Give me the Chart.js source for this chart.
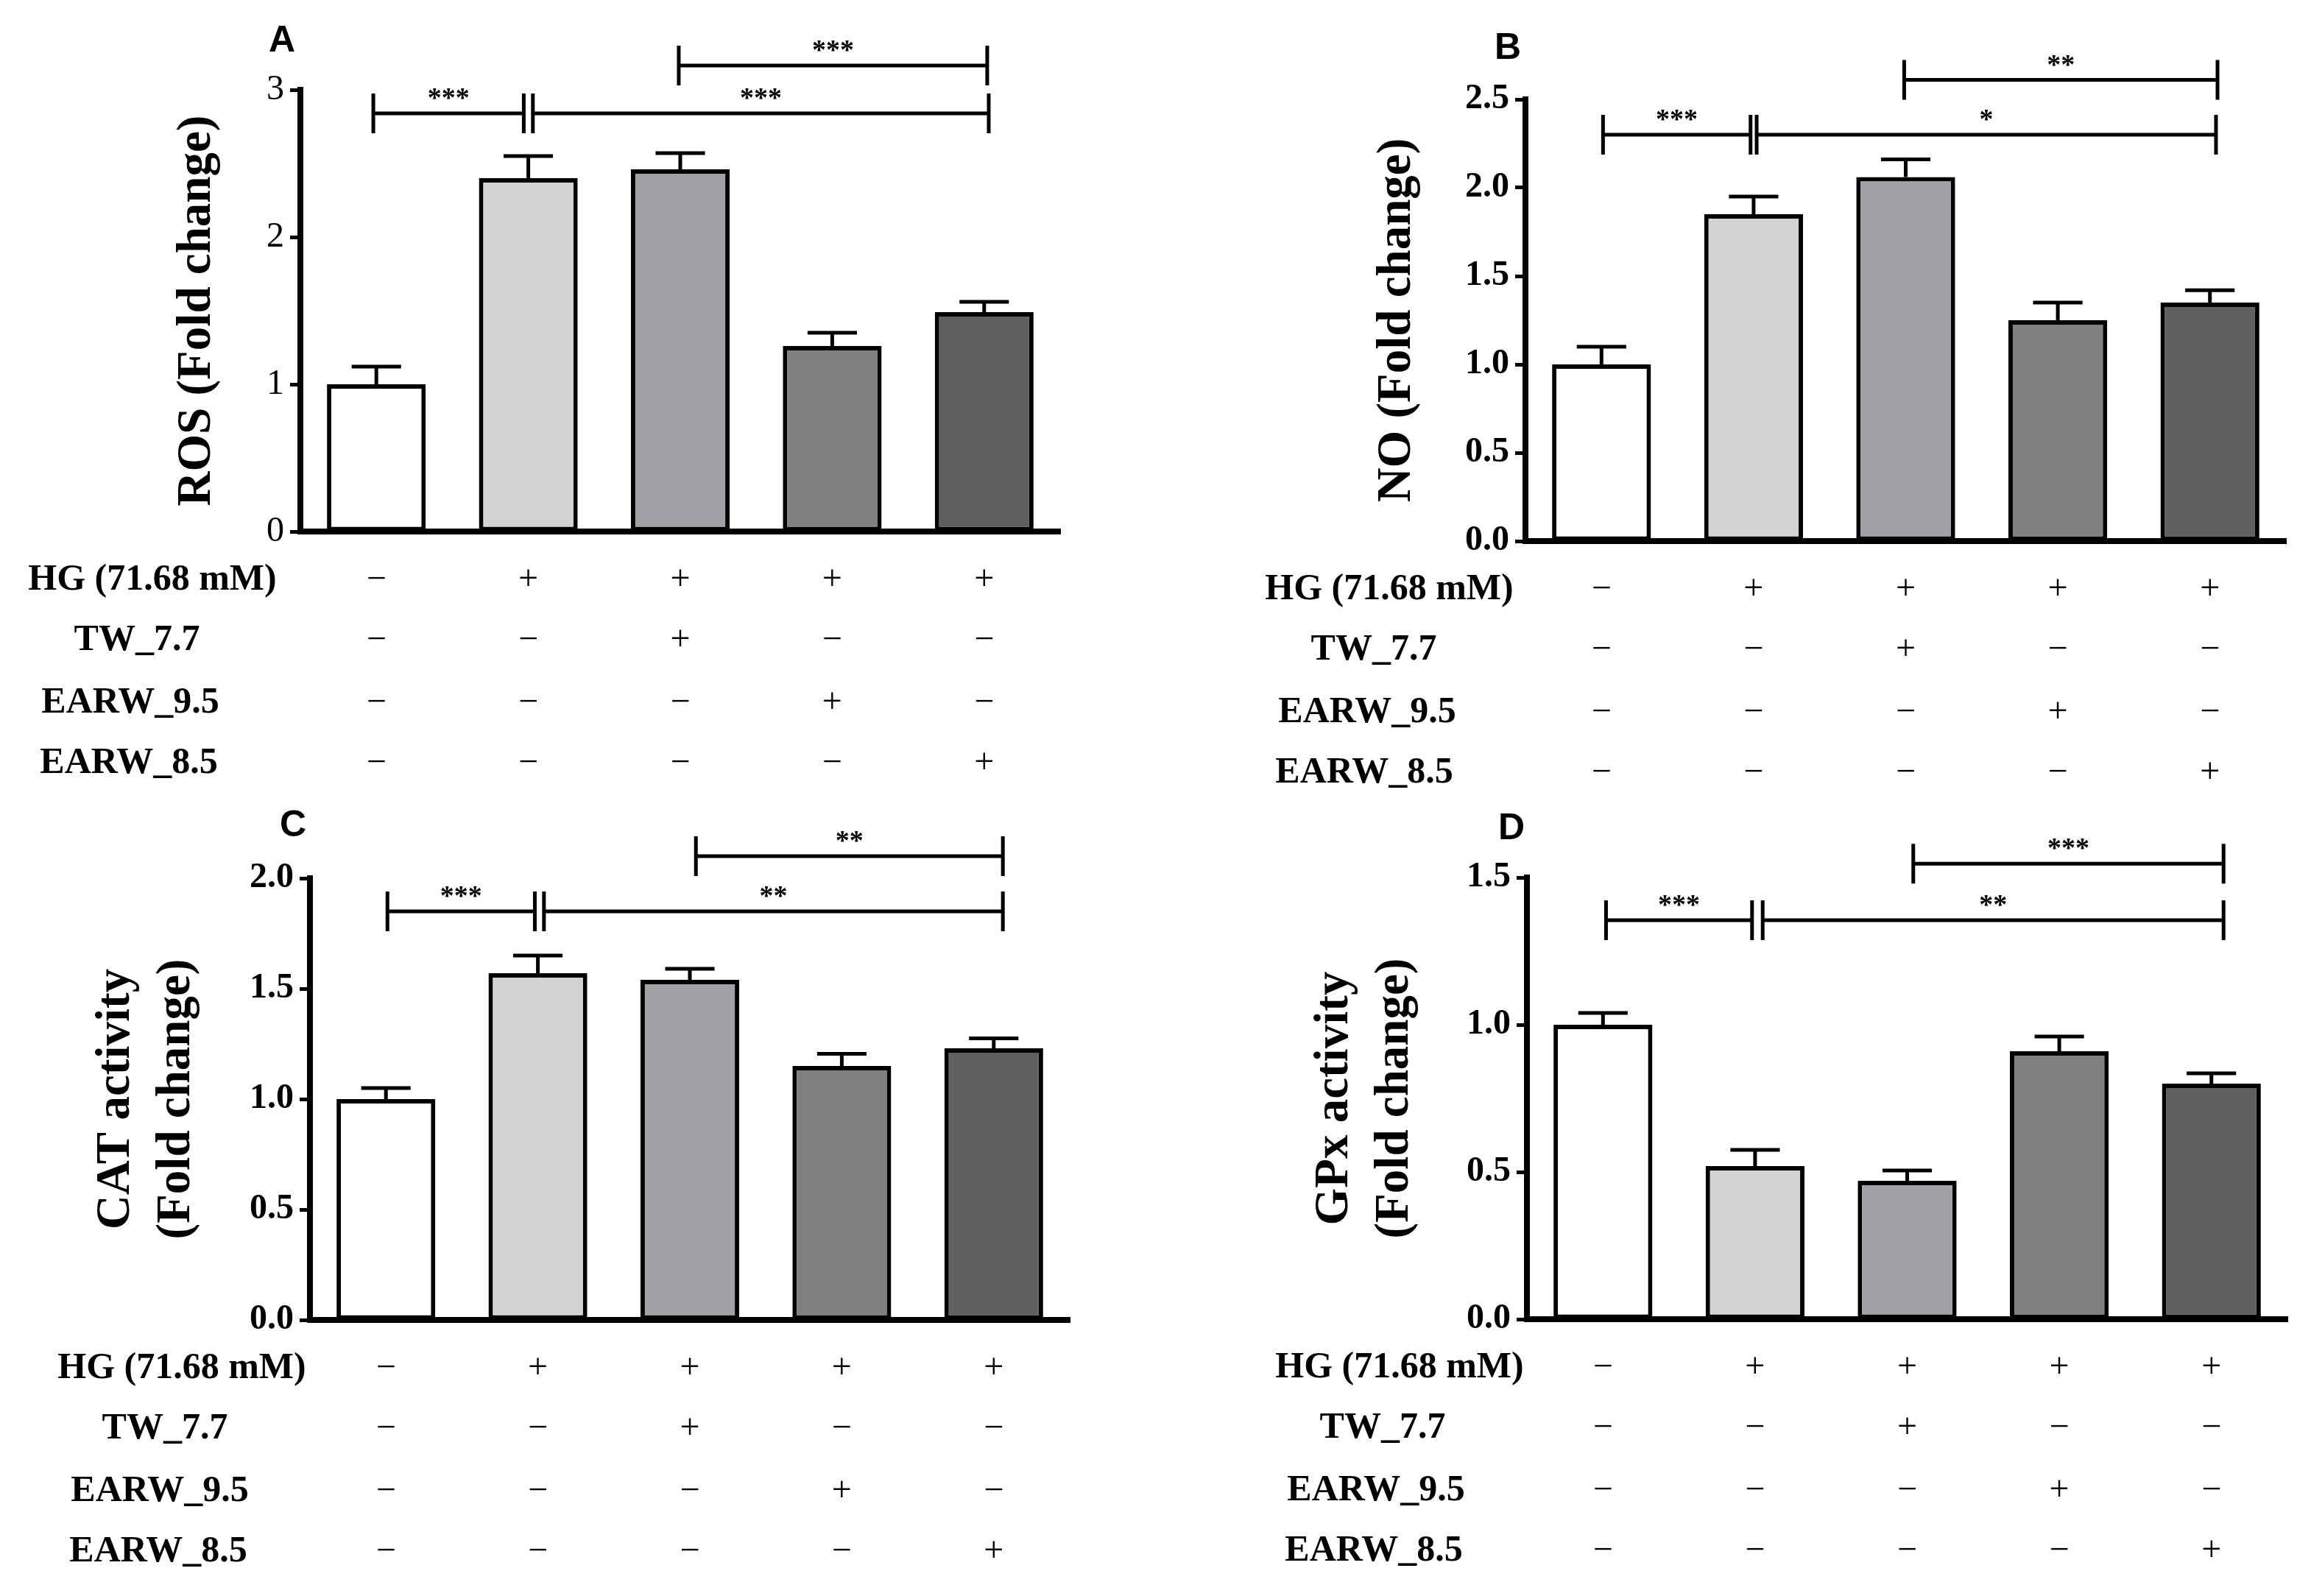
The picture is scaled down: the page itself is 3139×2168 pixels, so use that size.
<!DOCTYPE html>
<html>
<head>
<meta charset="utf-8">
<script src="https://cdn.jsdelivr.net/npm/chart.js@4.4.1/dist/chart.umd.min.js"></script>
<style>
  html, body { margin: 0; padding: 0; background: #ffffff; }
  body { width: 3139px; height: 2168px; position: relative; overflow: hidden; }
  canvas { position: absolute; }
</style>
</head>
<body>
<canvas id="cA" width="1570" height="1084" style="left:0px;top:0px;width:1570px;height:1084px"></canvas>
<canvas id="cB" width="1569" height="1084" style="left:1570px;top:0px;width:1569px;height:1084px"></canvas>
<canvas id="cC" width="1570" height="1084" style="left:0px;top:1084px;width:1570px;height:1084px"></canvas>
<canvas id="cD" width="1569" height="1084" style="left:1570px;top:1084px;width:1569px;height:1084px"></canvas>
<script>
// ---------------- DATA ----------------
const categories = ['Control', 'HG', 'HG+TW_7.7', 'HG+EARW_9.5', 'HG+EARW_8.5'];
const rowNames = ['HG (71.68 mM)', 'TW_7.7', 'EARW_9.5', 'EARW_8.5'];
const signsHG   = ['\u2212', '+', '+', '+', '+'];
const signsTW   = ['\u2212', '\u2212', '+', '\u2212', '\u2212'];
const signsE95  = ['\u2212', '\u2212', '\u2212', '+', '\u2212'];
const signsE85  = ['\u2212', '\u2212', '\u2212', '\u2212', '+'];
const signRows = [signsHG, signsTW, signsE95, signsE85];

const rosMean = [1.00, 2.40, 2.46, 1.26, 1.49];
const rosErr  = [0.12, 0.15, 0.11, 0.09, 0.07];
const noMean  = [1.00, 1.85, 2.06, 1.25, 1.35];
const noErr   = [0.10, 0.10, 0.10, 0.10, 0.07];
const catMean = [1.00, 1.57, 1.54, 1.15, 1.23];
const catErr  = [0.05, 0.08, 0.05, 0.055, 0.045];
const gpxMean = [1.00, 0.52, 0.47, 0.91, 0.80];
const gpxErr  = [0.04, 0.055, 0.035, 0.05, 0.035];

const rosTicks = [0, 1, 2, 3];
const noTicks  = [0, 0.5, 1.0, 1.5, 2.0, 2.5];
const catTicks = [0, 0.5, 1.0, 1.5, 2.0];
const gpxTicks = [0, 0.5, 1.0, 1.5];

// significance brackets: [from category, to category, value level, label]
const rosBrackets = [[-0.02, 0.97, 2.84, '***'], [1.03, 4.03, 2.84, '***'], [1.99, 4.02, 3.165, '***']];
const noBrackets  = [[0.01, 0.98, 2.30, '***'], [1.02, 4.04, 2.30, '*'], [1.99, 4.05, 2.61, '**']];
const catBrackets = [[0.01, 0.98, 1.85, '***'], [1.04, 4.06, 1.85, '**'], [2.04, 4.06, 2.10, '**']];
const gpxBrackets = [[0.02, 0.98, 1.355, '***'], [1.05, 4.08, 1.355, '**'], [2.04, 4.08, 1.547, '***']];

const barColors = ['#ffffff', '#d3d3d3', '#a2a2a6', '#808080', '#606060'];

// ---------------- LAYOUT ----------------
const panels = [
  { id: 'cA', W: 1570, H: 1084, x0: 408, x1: 1440, yTop: 122, yZero: 722, titleLeft: 227,
    title: 'ROS (Fold change)', mean: rosMean, err: rosErr, ticks: rosTicks, dec: 0, tickWeight: 'normal',
    brackets: rosBrackets, letter: 'A', letterX: 365, letterY: 70, nameX: [-201, -222, -231, -233] },
  { id: 'cB', W: 1569, H: 1084, x0: 502, x1: 1535, yTop: 135, yZero: 735, titleLeft: 287,
    title: 'NO (Fold change)', mean: noMean, err: noErr, ticks: noTicks, dec: 1, tickWeight: 'bold',
    brackets: noBrackets, letter: 'B', letterX: 460, letterY: 80, nameX: [-185, -206, -215, -219] },
  { id: 'cC', W: 1570, H: 1084, x0: 421, x1: 1453, yTop: 109, yZero: 709, titleLeft: 117,
    title: ['CAT activity', '(Fold change)'], mean: catMean, err: catErr, ticks: catTicks, dec: 1, tickWeight: 'bold',
    brackets: catBrackets, letter: 'C', letterX: 380, letterY: 52, nameX: [-174, -197, -204, -206] },
  { id: 'cD', W: 1569, H: 1084, x0: 504, x1: 1537, yTop: 108, yZero: 708, titleLeft: 202,
    title: ['GPx activity', '(Fold change)'], mean: gpxMean, err: gpxErr, ticks: gpxTicks, dec: 1, tickWeight: 'bold',
    brackets: gpxBrackets, letter: 'D', letterX: 465, letterY: 56, nameX: [-173, -196, -205, -208] }
];
const rowOffsets = [79, 161, 246, 328];
const SERIF = "'Liberation Serif', 'Times New Roman', serif";
const SANS = "'Liberation Sans', Arial, sans-serif";

const decorPlugin = {
  id: 'decor',
  afterDatasetsDraw(chart) {
    const p = chart.options.plugins.decor;
    const ctx = chart.ctx;
    const xs = chart.scales.x, ys = chart.scales.y;
    const meta = chart.getDatasetMeta(0);
    ctx.save();
    ctx.strokeStyle = '#000';
    ctx.lineCap = 'butt';
    // error bars (upper)
    ctx.lineWidth = 5;
    meta.data.forEach((bar, i) => {
      const yb = ys.getPixelForValue(p.mean[i]);
      const ye = ys.getPixelForValue(p.mean[i] + p.err[i]);
      const half = bar.width * 0.25;
      ctx.beginPath();
      ctx.moveTo(bar.x, yb);
      ctx.lineTo(bar.x, ye);
      ctx.moveTo(bar.x - half, ye);
      ctx.lineTo(bar.x + half, ye);
      ctx.stroke();
    });
    // significance brackets
    ctx.fillStyle = '#000';
    ctx.font = 'bold 38px ' + SERIF;
    ctx.textAlign = 'center';
    ctx.textBaseline = 'alphabetic';
    p.brackets.forEach(b => {
      const xa = xs.getPixelForValue(b[0]);
      const xb = xs.getPixelForValue(b[1]);
      const yl = ys.getPixelForValue(b[2]);
      ctx.lineWidth = 5;
      ctx.beginPath();
      ctx.moveTo(xa, yl); ctx.lineTo(xb, yl);
      ctx.moveTo(xa, yl - 27); ctx.lineTo(xa, yl + 27);
      ctx.moveTo(xb, yl - 27); ctx.lineTo(xb, yl + 27);
      ctx.stroke();
      ctx.fillText(b[3], (xa + xb) / 2, yl - 9);
    });
    // treatment rows
    const yZero = ys.getPixelForValue(0);
    rowNames.forEach((name, r) => {
      const yb = yZero + rowOffsets[r];
      ctx.font = 'bold 50px ' + SERIF;
      ctx.textAlign = 'center';
      ctx.fillText(name, chart.chartArea.left + p.nameX[r], yb);
      ctx.font = '48px ' + SERIF;
      signRows[r].forEach((s, i) => {
        ctx.fillText(s, xs.getPixelForValue(i), yb);
      });
    });
    // panel letter
    ctx.font = 'bold 50px ' + SANS;
    ctx.textAlign = 'left';
    ctx.fillText(p.letter, p.letterX, p.letterY);
    ctx.restore();
  }
};

panels.forEach(p => {
  const yMax = p.ticks[p.ticks.length - 1];
  const step = p.ticks[1] - p.ticks[0];
  const yWidth = p.x0 - p.titleLeft;
  new Chart(document.getElementById(p.id), {
    type: 'bar',
    data: {
      labels: categories,
      datasets: [{
        data: p.mean,
        backgroundColor: barColors,
        borderColor: '#000000',
        borderWidth: 6,
        borderSkipped: false,
        barPercentage: 0.65,
        categoryPercentage: 1.0
      }]
    },
    options: {
      responsive: false,
      animation: false,
      devicePixelRatio: 1,
      layout: { padding: { left: p.titleLeft, right: p.W - p.x1, top: p.yTop, bottom: p.H - p.yZero - 2 } },
      plugins: {
        legend: { display: false },
        tooltip: { enabled: false },
        decor: { mean: p.mean, err: p.err, brackets: p.brackets, letter: p.letter,
                 letterX: p.letterX, letterY: p.letterY, nameX: p.nameX }
      },
      scales: {
        x: {
          type: 'category',
          offset: true,
          grid: { display: false },
          border: { display: true, width: 8, color: '#000' },
          ticks: { display: false },
          afterFit(s) { s.height = 2; }
        },
        y: {
          min: 0, max: yMax,
          afterBuildTicks(s) { s.ticks = p.ticks.map(v => ({ value: v })); },
          ticks: {
            stepSize: step,
            color: '#000',
            padding: 8,
            font: { family: SERIF, size: 48, weight: p.tickWeight },
            callback: v => Number(v).toFixed(p.dec)
          },
          grid: { display: true, drawOnChartArea: false, drawTicks: true, tickLength: 14, tickWidth: 5, tickColor: '#000' },
          border: { display: true, width: 8, color: '#000' },
          title: {
            display: true, text: p.title, color: '#000', padding: 0,
            font: { family: SERIF, size: 65, weight: 'bold', lineHeight: 1.26 }
          },
          afterFit(s) { s.width = yWidth; }
        }
      }
    },
    plugins: [decorPlugin]
  });
});
</script>
</body>
</html>
